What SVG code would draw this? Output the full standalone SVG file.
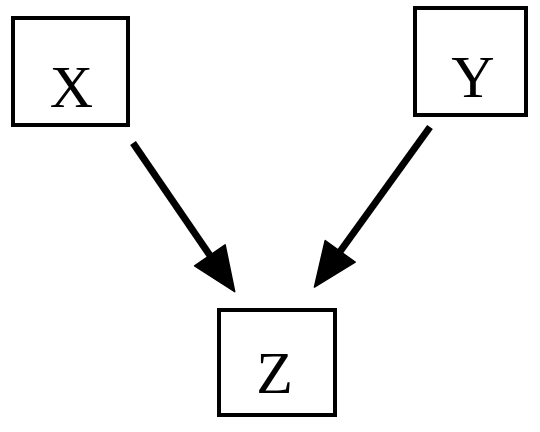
<svg xmlns="http://www.w3.org/2000/svg" width="540" height="432" viewBox="0 0 540 432">
  <style>
    .box { fill: #ffffff; stroke: #000000; stroke-width: 4; }
    .lbl { font-family: "Liberation Serif", "Times New Roman", serif; font-size: 60px; fill: #000000; text-anchor: middle; }
    .edge { stroke: #000000; stroke-width: 7; fill: none; stroke-linecap: butt; }
  </style>
  <defs>
    <marker id="arrow" markerUnits="userSpaceOnUse" markerWidth="50" markerHeight="40" viewBox="0 -20 50 40" refX="2" refY="0" orient="auto" overflow="visible">
      <path d="M0,-18.5 L44,0 L0,18.5 Z" fill="#000000" stroke="#000000" stroke-width="1.5" stroke-linejoin="round"/>
    </marker>
  </defs>
  <rect width="540" height="432" fill="#ffffff"/>
  <g id="edges">
    <line class="edge" x1="133" y1="143" x2="211" y2="257" marker-end="url(#arrow)"/>
    <line class="edge" x1="430" y1="127" x2="339" y2="253" marker-end="url(#arrow)"/>
  </g>
  <g id="node-X">
    <rect class="box" x="13" y="18" width="115" height="107"/>
    <text class="lbl" x="71.5" y="107">X</text>
  </g>
  <g id="node-Y">
    <rect class="box" x="415" y="8" width="111" height="107"/>
    <text class="lbl" x="473" y="97">Y</text>
  </g>
  <g id="node-Z">
    <rect class="box" x="219" y="310" width="116" height="105"/>
    <text class="lbl" x="274.5" y="393">Z</text>
  </g>
</svg>
